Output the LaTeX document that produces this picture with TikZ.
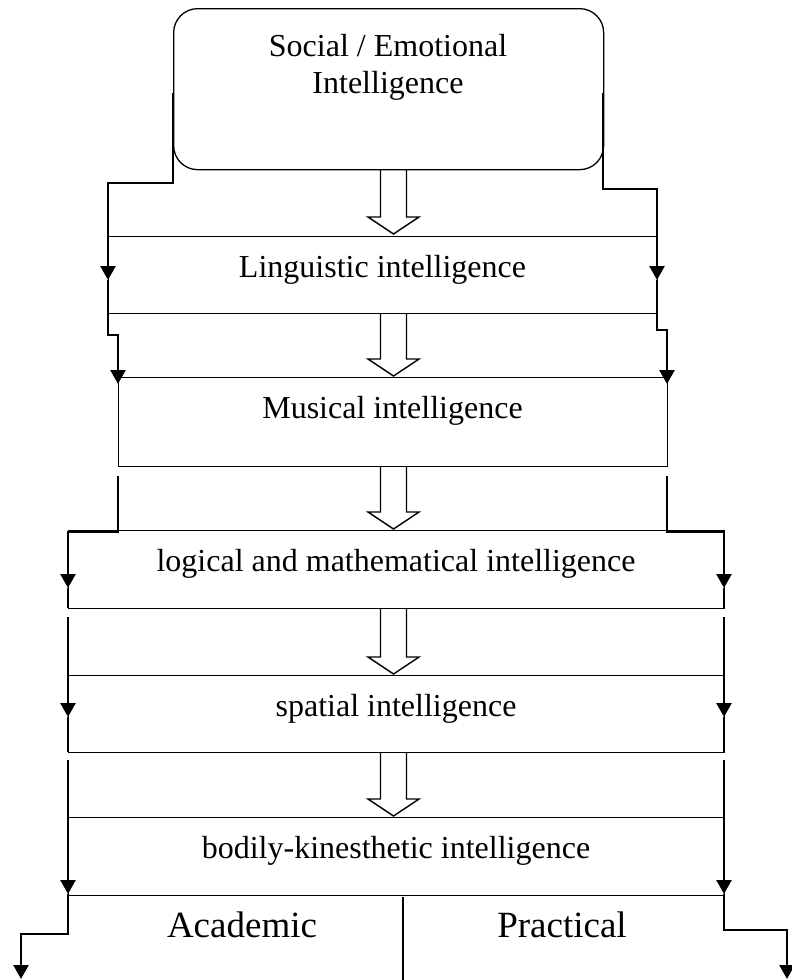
\documentclass[tikz,border=0pt]{standalone}
\usepackage{fontspec}
\setmainfont{Liberation Serif}
\usetikzlibrary{arrows.meta}
\begin{document}
\begin{tikzpicture}[x=1pt,y=-1pt,
  boxshape/.style={draw,line width=1.3pt,rectangle,inner sep=0pt,anchor=north west},
  conn/.style={line width=2.6pt,line join=miter},
  tipped/.style={-{Triangle[width=15pt,length=14pt]}},
  harrow/.style={draw,line width=1.4pt,line join=miter},
  lbl/.style={font=\fontsize{32}{38}\selectfont,inner sep=0pt,anchor=base},
  biglbl/.style={font=\fontsize{37}{44}\selectfont,inner sep=0pt,anchor=base}]
\fill[white] (0,0) rectangle (792,980);
\useasboundingbox (0,0) rectangle (792,980);
\newcommand{\blockarrow}[2]{%
  \draw[harrow] (380.5,#1) -- (380.5,#2-17) -- (368,#2-17) -- (393.5,#2) -- (419,#2-17) -- (406.5,#2-17) -- (406.5,#1);}
% boxes
\node[boxshape,rounded corners=24pt,minimum width=430pt,minimum height=161pt] (top) at (173,8) {};
\node[boxshape,minimum width=549pt,minimum height=77pt] (ling) at (108,236) {};
\node[boxshape,minimum width=549pt,minimum height=89pt] (mus) at (118,377) {};
\node[boxshape,minimum width=656pt,minimum height=78pt] (logi) at (68,530) {};
\node[boxshape,minimum width=656pt,minimum height=77pt] (spat) at (68,675) {};
\node[boxshape,minimum width=656pt,minimum height=78pt] (bod) at (68,817) {};
% texts
\node[lbl] (t1) at (388,56) {Social / Emotional};
\node[lbl] (t2) at (388,93) {Intelligence};
\node[lbl] (tling) at (382.5,277) {Linguistic intelligence};
\node[lbl] (tmus) at (392.5,418) {Musical intelligence};
\node[lbl] (tlogi) at (396,571) {logical and mathematical intelligence};
\node[lbl] (tspat) at (396,716) {spatial intelligence};
\node[lbl] (tbod) at (396,858) {bodily-kinesthetic intelligence};
\node[biglbl] (acad) at (242,937) {Academic};
\node[biglbl] (prac) at (562,937) {Practical};
% block arrows
\blockarrow{169}{234}
\blockarrow{313}{376}
\blockarrow{466}{529}
\blockarrow{608}{674}
\blockarrow{752}{816}
% left connectors
\draw[conn,tipped] (173,93) -- (173,183) -- (108,183) -- (108,280);
\draw[conn,tipped] (108,280) -- (108,335) -- (118,335) -- (118,384);
\draw[conn,tipped] (118,476) -- (118,532) -- (68,532) -- (68,588);
\draw[conn] (68,588) -- (68,608);
\draw[conn,tipped] (68,617) -- (68,717);
\draw[conn] (68,717) -- (68,752);
\draw[conn,tipped] (68,760) -- (68,894);
\draw[conn,tipped] (68,894) -- (68,934) -- (21,934) -- (21,979);
% right connectors
\draw[conn,tipped] (603,93) -- (603,189) -- (657,189) -- (657,280);
\draw[conn,tipped] (657,280) -- (657,330) -- (667,330) -- (667,384);
\draw[conn,tipped] (667,476) -- (667,532) -- (724,532) -- (724,588);
\draw[conn] (724,588) -- (724,608);
\draw[conn,tipped] (724,617) -- (724,717);
\draw[conn] (724,717) -- (724,752);
\draw[conn,tipped] (724,760) -- (724,894);
\draw[conn,tipped] (724,894) -- (724,930) -- (787,930) -- (787,979);
% divider
\draw[line width=1.3pt] (403,897) -- (403,980);
\end{tikzpicture}
\end{document}
